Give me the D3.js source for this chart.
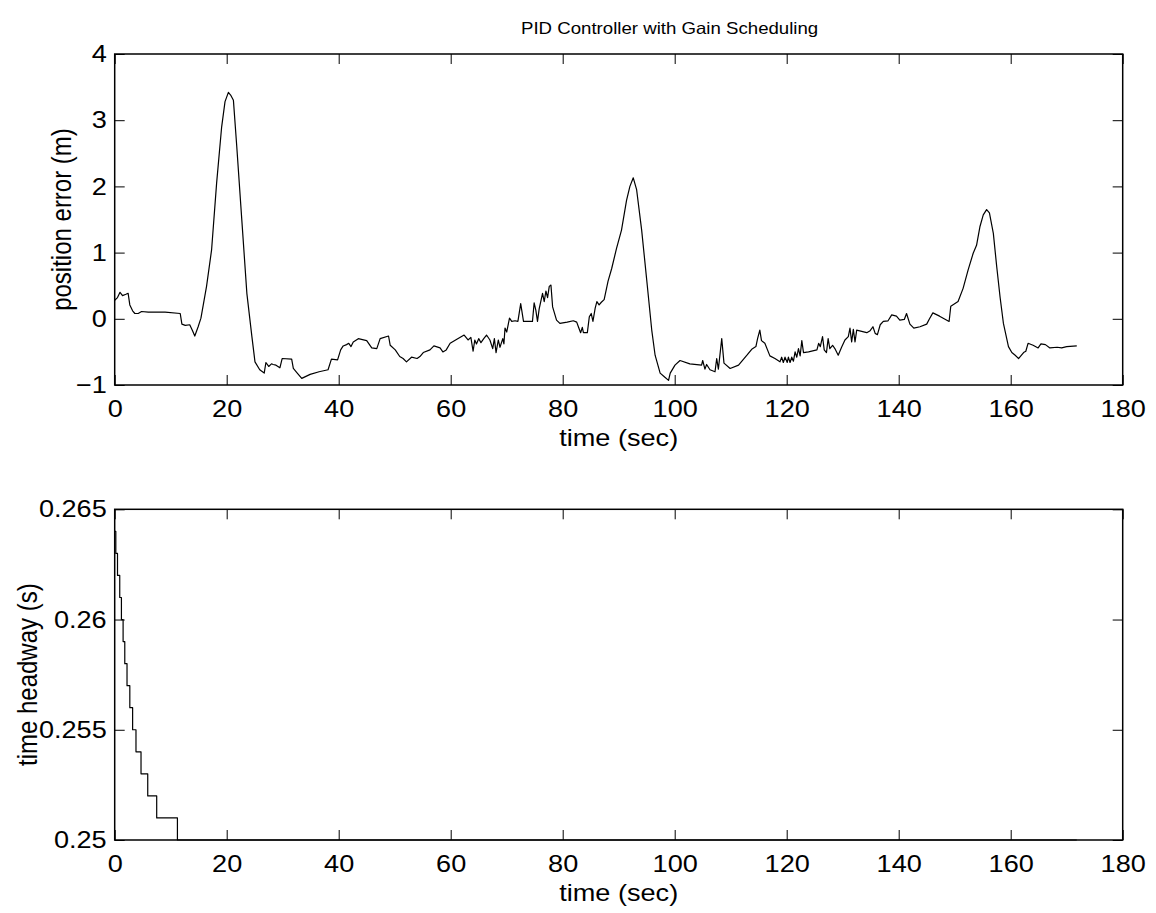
<!DOCTYPE html>
<html>
<head>
<meta charset="utf-8">
<script src="https://cdn.jsdelivr.net/npm/d3@7"></script>
<style>
  html, body { margin: 0; padding: 0; background: #fff; }
  svg { display: block; }
  text { font-family: "Liberation Sans", Arial, Helvetica, sans-serif; fill: #000; }
</style>
</head>
<body>
<svg id="chart" width="1156" height="913"></svg>
<script>
// ---- data ----
const titleText = "PID Controller with Gain Scheduling";
const xLabelText = "time (sec)";
const yLabelTop = "position error (m)";
const yLabelBottom = "time headway (s)";

const xTicks = [0, 20, 40, 60, 80, 100, 120, 140, 160, 180];
const yTicksTop = [-1, 0, 1, 2, 3, 4];
const yTicksBottom = [0.25, 0.255, 0.26, 0.265];
const yTickLabelsBottom = ["0.25", "0.255", "0.26", "0.265"];

const errTime = [0, 0.5, 0.95, 1.4, 2.0, 2.4, 2.7, 3.2, 3.6, 4.2, 4.8, 6, 9, 11.7, 12.0, 12.6, 13.4, 13.9, 14.3, 14.9,
  15.4, 16.4, 17.3, 18.2, 19.1, 19.7, 20.3, 20.7, 21.2, 21.8, 22.7, 23.6, 24.5, 25.05, 25.9, 26.7, 27.0, 27.5, 28.0, 28.3,
  28.8, 29.5, 29.9, 31.6, 31.9, 32.6, 33.4, 34.9, 36.5, 38.1, 38.7, 39.8, 40.35, 40.8, 41.4, 41.8, 42.2, 42.6, 43.5, 45.0,
  45.9, 46.8, 47.4, 48.9, 49.2, 50.1, 50.9, 51.5, 52.1, 53.0, 54.0, 54.5, 55.1, 56.3, 57.0, 58.1, 58.6, 59.2, 59.9, 61.1,
  62.4, 63.1, 63.6, 64.0, 64.3, 64.6, 65.0, 65.4, 65.9, 66.4, 67.0, 67.5, 67.8, 68.1, 68.5, 68.8, 69.3, 69.5, 69.7, 70.0,
  70.5, 70.9, 71.5, 72.0, 72.5, 73.0, 74.6, 74.9, 75.2, 75.5, 75.8, 76.4, 76.7, 77.0, 77.3, 77.6, 77.9, 78.2, 78.9, 79.5,
  80.8, 81.9, 82.5, 82.8, 83.2, 83.5, 83.7, 84.4, 84.75, 85.1, 85.4, 85.8, 86.1, 86.5, 86.9, 87.4, 88.1, 88.75, 89.6, 90.5,
  91.4, 92.0, 92.6, 93.2, 94.1, 95.0, 95.9, 96.5, 97.4, 98.2, 98.9, 99.2, 100.05, 100.95, 102.7, 104.8, 105.0, 105.4, 105.7, 106.3,
  107.2, 107.5, 107.8, 108.4, 108.8, 109.9, 111.4, 112.9, 113.75, 114.5, 114.8, 115.2, 115.5, 116.1, 117.0, 117.9, 118.8, 119.1, 119.4, 119.7,
  120.1, 120.3, 120.6, 120.9, 121.2, 121.5, 121.8, 122.1, 122.4, 122.7, 123.0, 123.9, 125.4, 125.7, 126.0, 126.4, 126.7, 127.1, 127.4, 127.7,
  128.2, 128.6, 129.2, 129.8, 130.4, 131.0, 131.3, 131.6, 131.9, 132.2, 132.5, 133.4, 134.3, 134.9, 135.4, 135.8, 136.2, 136.7, 137.25, 138.1,
  138.75, 139.6, 140.2, 141.0, 141.4, 142.0, 142.7, 143.8, 145.0, 145.5, 146.1, 147.3, 149.0, 149.3, 150.6, 151.5, 152.4, 153.3, 153.9, 154.5,
  155.1, 155.7, 156.2, 156.9, 157.5, 158.1, 158.7, 159.6, 160.2, 160.8, 161.4, 162.3, 162.7, 163.1, 164.0, 164.9, 165.4, 166.2, 167.0, 168.3,
  169.1, 170.0, 171.8];
const errValue = [0.28, 0.32, 0.40, 0.35, 0.37, 0.385, 0.21, 0.12, 0.08, 0.08, 0.11, 0.10, 0.10, 0.08, -0.08, -0.10, -0.09, -0.18, -0.26, -0.12,
  0.01, 0.49, 1.04, 2.05, 2.90, 3.28, 3.42, 3.38, 3.30, 2.60, 1.49, 0.385, -0.27, -0.65, -0.77, -0.82, -0.66, -0.72, -0.68, -0.69,
  -0.70, -0.74, -0.60, -0.61, -0.75, -0.82, -0.90, -0.84, -0.80, -0.77, -0.61, -0.62, -0.47, -0.41, -0.39, -0.37, -0.42, -0.35, -0.30, -0.33,
  -0.44, -0.45, -0.30, -0.26, -0.40, -0.47, -0.57, -0.60, -0.65, -0.58, -0.60, -0.57, -0.51, -0.47, -0.41, -0.44, -0.50, -0.47, -0.37, -0.31,
  -0.245, -0.32, -0.28, -0.49, -0.32, -0.38, -0.30, -0.36, -0.30, -0.245, -0.32, -0.45, -0.30, -0.51, -0.32, -0.43, -0.30, -0.38, -0.14, -0.20,
  0.01, -0.04, -0.03, -0.04, 0.23, -0.04, -0.04, 0.24, 0.13, -0.04, 0.15, 0.385, 0.26, 0.42, 0.32, 0.49, 0.51, 0.18, -0.02, -0.07,
  -0.05, -0.03, -0.05, -0.12, -0.21, -0.13, -0.21, -0.21, 0.03, 0.08, -0.04, 0.16, 0.26, 0.21, 0.25, 0.29, 0.57, 0.76, 1.06, 1.34,
  1.79, 2.00, 2.13, 1.95, 1.34, 0.59, -0.17, -0.55, -0.82, -0.88, -0.93, -0.82, -0.70, -0.63, -0.68, -0.70, -0.63, -0.76, -0.69, -0.77,
  -0.80, -0.60, -0.76, -0.30, -0.67, -0.75, -0.70, -0.55, -0.46, -0.42, -0.30, -0.17, -0.33, -0.37, -0.56, -0.60, -0.65, -0.58, -0.66, -0.58,
  -0.66, -0.58, -0.66, -0.58, -0.64, -0.50, -0.58, -0.45, -0.56, -0.33, -0.51, -0.50, -0.47, -0.37, -0.42, -0.27, -0.47, -0.51, -0.30, -0.45,
  -0.40, -0.45, -0.55, -0.43, -0.32, -0.27, -0.14, -0.35, -0.16, -0.35, -0.17, -0.19, -0.21, -0.18, -0.12, -0.22, -0.24, -0.09, -0.04, -0.03,
  0.06, 0.04, -0.02, -0.01, 0.08, -0.08, -0.14, -0.12, -0.08, 0.00, 0.09, 0.04, -0.04, 0.19, 0.26, 0.46, 0.74, 0.99, 1.11, 1.39,
  1.57, 1.65, 1.60, 1.29, 0.79, 0.33, -0.07, -0.42, -0.51, -0.55, -0.60, -0.51, -0.49, -0.37, -0.40, -0.44, -0.38, -0.39, -0.44, -0.43,
  -0.44, -0.42, -0.41];

const hwTime = [0, 0.2, 0.5, 0.9, 1.2, 1.5, 1.8, 2.2, 2.7, 3.2, 3.8, 4.7, 5.9, 7.5, 11.2, 171.8];
const hwValue = [0.264, 0.263, 0.262, 0.261, 0.260, 0.259, 0.258, 0.257, 0.256, 0.255, 0.254, 0.253, 0.252, 0.251, 0.250, 0.250];

// ---- layout ----
const SX = 1.13; // horizontal stretch of the reference's glyphs
const svg = d3.select("#chart");
const left = 114.7, right = 1122.7;
const panels = [
  { top: 54, bottom: 385, domain: [-1, 4], ticks: yTicksTop,
    fmt: d => (d < 0 ? "\u2212" + Math.abs(d) : String(d)),
    t: errTime, v: errValue, curve: d3.curveLinear, ylabel: yLabelTop, ylabelX: 62 },
  { top: 509.3, bottom: 840, domain: [0.25, 0.265], ticks: yTicksBottom,
    fmt: d => yTickLabelsBottom[yTicksBottom.indexOf(d)],
    t: hwTime, v: hwValue, curve: d3.curveStepAfter, ylabel: yLabelBottom, ylabelX: 28 }
];

const x = d3.scaleLinear().domain([0, 180]).range([left, right]);

function stretchTickText(sel) {
  sel.selectAll(".tick text").each(function () {
    const t = d3.select(this);
    const tx = +t.attr("x") || 0;
    t.attr("x", tx / SX).attr("transform", `scale(${SX},1)`);
  });
}

panels.forEach((p, i) => {
  const y = d3.scaleLinear().domain(p.domain).range([p.bottom, p.top]);
  const g = svg.append("g");

  const axB = g.append("g").attr("transform", `translate(0,${p.bottom})`)
    .call(d3.axisBottom(x).tickValues(xTicks).tickSizeInner(-10).tickSizeOuter(0).tickPadding(15));
  const axT = g.append("g").attr("transform", `translate(0,${p.top})`)
    .call(d3.axisTop(x).tickValues(xTicks).tickSizeInner(-10).tickSizeOuter(0).tickFormat(""));
  const axL = g.append("g").attr("transform", `translate(${left},0)`)
    .call(d3.axisLeft(y).tickValues(p.ticks).tickSizeInner(-10).tickSizeOuter(0).tickPadding(8).tickFormat(p.fmt));
  const axR = g.append("g").attr("transform", `translate(${right},0)`)
    .call(d3.axisRight(y).tickValues(p.ticks).tickSizeInner(-10).tickSizeOuter(0).tickFormat(""));
  [axB, axT, axL, axR].forEach(a => {
    a.select(".domain").remove();
    a.selectAll(".tick line").attr("stroke", "#000").attr("stroke-width", 1);
    a.selectAll(".tick text").attr("font-size", 24).attr("font-family", "Liberation Sans, Arial, sans-serif").attr("fill", "#000");
  });
  stretchTickText(axB);
  stretchTickText(axL);

  const pts = p.t.map((t, k) => [t, p.v[k]]);
  g.append("path")
    .datum(pts)
    .attr("fill", "none")
    .attr("stroke", "#000")
    .attr("stroke-width", 1.2)
    .attr("stroke-linejoin", "round")
    .attr("d", d3.line().x(d => x(d[0])).y(d => y(d[1])).curve(p.curve));

  g.append("rect")
    .attr("x", left).attr("y", p.top)
    .attr("width", right - left).attr("height", p.bottom - p.top)
    .attr("fill", "none").attr("stroke", "#000").attr("stroke-width", 1.5);

  g.append("text")
    .attr("transform", `translate(${(left + right) / 2},${p.bottom + 53}) scale(${SX},1)`)
    .attr("text-anchor", "middle").attr("dy", "0.35em")
    .attr("font-size", 24)
    .text(xLabelText);
  g.append("text")
    .attr("transform", `translate(${p.ylabelX},${(p.top + p.bottom) / 2}) scale(${SX},1) rotate(-90)`)
    .attr("text-anchor", "middle").attr("dy", "0.35em")
    .attr("font-size", 24)
    .text(p.ylabel);
});

svg.append("text")
  .attr("transform", `translate(521,34) scale(${SX},1)`)
  .attr("text-anchor", "start")
  .attr("font-size", 16.5)
  .text(titleText);
</script>
</body>
</html>
